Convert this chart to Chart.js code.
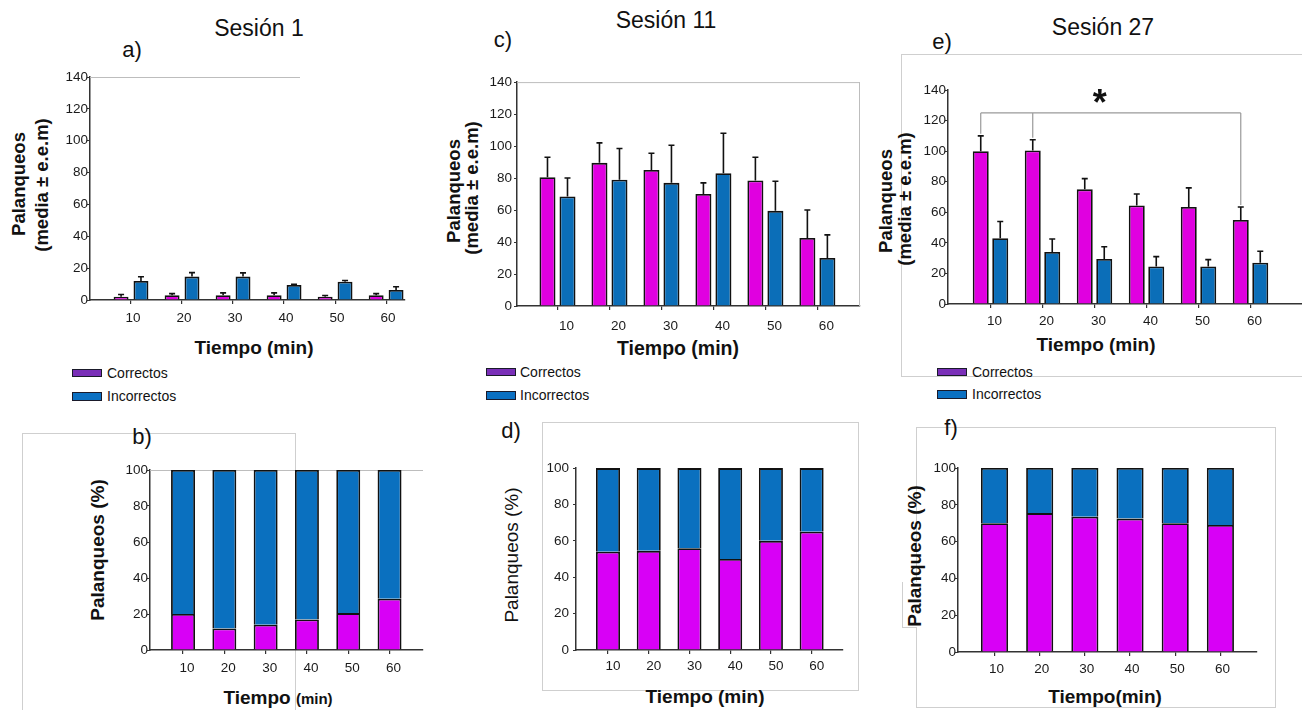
<!DOCTYPE html>
<html>
<head>
<meta charset="utf-8">
<script src="https://cdn.jsdelivr.net/npm/chart.js"></script>
<style>
body { margin: 0; width: 1302px; height: 710px; background: #fff; position: relative; overflow: hidden;
       font-family: "Liberation Sans", Arial, sans-serif; color: #111; }
canvas { position: absolute; }
.t { position: absolute; white-space: nowrap; transform: translate(-50%, -50%); }
.yt { position: absolute; white-space: nowrap; transform: translate(-50%, -50%) rotate(-90deg); font-weight: bold; }
.box { position: absolute; border: 1px solid #cfcfcf; }
.sw { position: absolute; width: 30px; height: 8px; border: 1px solid #1a1a2a; box-sizing: border-box; }
.lg { position: absolute; font-size: 14px; transform: translateY(-50%); white-space: nowrap; }
</style>
</head>
<body>

<!-- marcos de fondo -->
<div class="box" style="left:22px;top:433px;width:272px;height:300px;"></div>
<div class="box" style="left:542px;top:422px;width:315px;height:267px;"></div>
<div class="box" style="left:916px;top:427px;width:358px;height:279px;"></div>
<div class="box" style="left:901px;top:54px;width:420px;height:321px;"></div>
<div style="position:absolute;left:902px;top:582px;width:14px;height:45px;border-left:1px solid #cfcfcf;border-bottom:1px solid #cfcfcf;background:#fff;"></div>

<!-- titulos -->
<div class="t" style="left:259px;top:28px;font-size:23px;">Sesión 1</div>
<div class="t" style="left:666px;top:20px;font-size:23px;">Sesión 11</div>
<div class="t" style="left:1103px;top:27px;font-size:23px;">Sesión 27</div>

<div class="t" style="left:132px;top:50px;font-size:22px;">a)</div>
<div class="t" style="left:503px;top:40px;font-size:22px;">c)</div>
<div class="t" style="left:942px;top:42px;font-size:22px;">e)</div>
<div class="t" style="left:142px;top:437px;font-size:22px;">b)</div>
<div class="t" style="left:511px;top:431px;font-size:22px;">d)</div>
<div class="t" style="left:951px;top:428px;font-size:22px;">f)</div>

<!-- ejes y -->
<div class="yt" style="left:19px;top:184px;font-size:18.5px;">Palanqueos</div>
<div class="yt" style="left:42px;top:185px;font-size:18.5px;">(media ± e.e.m)</div>
<div class="yt" style="left:454px;top:191px;font-size:18.5px;">Palanqueos</div>
<div class="yt" style="left:472px;top:188px;font-size:18.5px;">(media ± e.e.m)</div>
<div class="yt" style="left:886px;top:201px;font-size:18.5px;">Palanqueos</div>
<div class="yt" style="left:905px;top:199px;font-size:18.5px;">(media ± e.e.m)</div>
<div class="yt" style="left:98px;top:550px;font-size:19px;">Palanqueos (%)</div>
<div class="yt" style="left:512px;top:555px;font-size:19px;font-weight:normal;">Palanqueos (%)</div>
<div class="yt" style="left:915px;top:556px;font-size:19px;">Palanqueos (%)</div>

<!-- ejes x -->
<div class="t" style="left:254px;top:348px;font-size:19px;font-weight:bold;">Tiempo (min)</div>
<div class="t" style="left:678px;top:348px;font-size:19.5px;font-weight:bold;">Tiempo (min)</div>
<div class="t" style="left:1096px;top:345px;font-size:19px;font-weight:bold;">Tiempo (min)</div>
<div class="t" style="left:278px;top:698px;font-size:19px;font-weight:bold;">Tiempo <span style="font-size:15px;">(min)</span></div>
<div class="t" style="left:705px;top:697px;font-size:19px;font-weight:bold;">Tiempo (min)</div>
<div class="t" style="left:1105px;top:697px;font-size:19px;font-weight:bold;">Tiempo(min)</div>

<!-- leyendas -->
<div class="sw" style="left:72px;top:369px;background:#7a2fb8;"></div>
<div class="lg" style="left:107px;top:373px;">Correctos</div>
<div class="sw" style="left:72px;top:392px;height:9px;background:#0b70c2;"></div>
<div class="lg" style="left:107px;top:396px;">Incorrectos</div>

<div class="sw" style="left:486px;top:368px;background:#7a2fb8;"></div>
<div class="lg" style="left:520px;top:372px;">Correctos</div>
<div class="sw" style="left:486px;top:391px;height:9px;background:#0b70c2;"></div>
<div class="lg" style="left:520px;top:395px;">Incorrectos</div>

<div class="sw" style="left:937px;top:368px;background:#7a2fb8;"></div>
<div class="lg" style="left:972px;top:372px;">Correctos</div>
<div class="sw" style="left:937px;top:390px;height:9px;background:#0b70c2;"></div>
<div class="lg" style="left:972px;top:394px;">Incorrectos</div>

<script>
// Tiempo (min)
const minutos = [10, 20, 30, 40, 50, 60];
const ticksCuenta = [0, 20, 40, 60, 80, 100, 120, 140];
const ticksPct = [0, 20, 40, 60, 80, 100];

// Sesion 1 - palanqueos (media y e.e.m)
const s1Correctos = [2, 3, 3, 3, 2, 3];
const s1CorrectosSem = [1.5, 1, 1.5, 1.5, 0.8, 1];
const s1Incorrectos = [12, 14.7, 14.7, 9.4, 11.5, 6.3];
const s1IncorrectosSem = [2.6, 2.5, 2.3, 0.5, 0.7, 2];

// Sesion 11
const s11Correctos = [80.5, 89.5, 85, 70, 78.5, 42.5];
const s11CorrectosSem = [12.5, 12.5, 10.5, 7, 14.5, 17.5];
const s11Incorrectos = [68.5, 79, 77, 83, 59.5, 30];
const s11IncorrectosSem = [11.5, 19.5, 23.5, 25, 18.5, 14.5];

// Sesion 27
const s27Correctos = [100, 100.5, 75, 64.5, 63.5, 55];
const s27CorrectosSem = [10, 7, 7, 7.5, 12.5, 8.5];
const s27Incorrectos = [43, 34, 29.5, 24.5, 24.5, 27];
const s27IncorrectosSem = [11, 8.5, 8, 6.5, 4.5, 7.5];

// porcentajes (%)
const pct1Correctos = [20, 12, 14, 17, 20.5, 28.5];
const pct1Incorrectos = [80, 88, 86, 83, 79.5, 71.5];
const pct11Correctos = [54, 54.5, 56, 50, 60, 65];
const pct11Incorrectos = [46, 45.5, 44, 50, 40, 35];
const pct27Correctos = [70, 75.5, 73.5, 72.5, 70, 69];
const pct27Incorrectos = [30, 24.5, 26.5, 27.5, 30, 31];

// comparacion significativa en sesion 27 (indices de minutos)
const sigIndices = [0, 1, 5];
const sigNivel = 125;
const sigMarca = '*';

const MAGENTA = '#e000e0';
const MAGENTA2 = '#d800f6';
const AZUL = '#0b6eb8';
const AZUL2 = '#0a70bf';

Chart.defaults.font.family = '"Liberation Sans", Arial, sans-serif';

const YW = 44, PT = 10, XH = 40, PR = 2;

function puntos(arr) {
    return minutos.map((m, i) => ({ x: m, y: arr[i] }));
}

// barras de error (solo hacia arriba)
const errorBars = {
    id: 'errorBars',
    afterDatasetsDraw(chart) {
        const ctx = chart.ctx;
        const y = chart.scales.y;
        chart.data.datasets.forEach((ds, i) => {
            if (!ds.sem) return;
            const meta = chart.getDatasetMeta(i);
            meta.data.forEach((bar, j) => {
                const top = y.getPixelForValue(ds.data[j].y + ds.sem[j]);
                ctx.save();
                ctx.strokeStyle = '#111';
                ctx.lineWidth = 1.6;
                ctx.beginPath();
                ctx.moveTo(bar.x, bar.y);
                ctx.lineTo(bar.x, top);
                ctx.moveTo(bar.x - 3, top);
                ctx.lineTo(bar.x + 3, top);
                ctx.stroke();
                ctx.restore();
            });
        });
    }
};

// marco gris del area
const frame = {
    id: 'frame',
    beforeDatasetsDraw(chart, args, opts) {
        if (!opts.top && !opts.right) return;
        const a = chart.chartArea, ctx = chart.ctx;
        const fin = opts.topLen ? a.left + opts.topLen : a.right;
        ctx.save();
        ctx.strokeStyle = '#bdbdbd';
        ctx.lineWidth = 1;
        ctx.beginPath();
        if (opts.top) { ctx.moveTo(a.left, a.top + 0.5); ctx.lineTo(fin, a.top + 0.5); }
        if (opts.right) { ctx.moveTo(a.right - 0.5, a.top); ctx.lineTo(a.right - 0.5, a.bottom); }
        ctx.stroke();
        ctx.restore();
    }
};

// corchete de significancia
const bracket = {
    id: 'bracket',
    afterDatasetsDraw(chart, args, opts) {
        if (!opts.indices) return;
        const ctx = chart.ctx, y = chart.scales.y, x = chart.scales.x;
        const ds = chart.data.datasets[0];
        const meta = chart.getDatasetMeta(0);
        const yl = y.getPixelForValue(opts.level);
        const xs = opts.indices.map(i => meta.data[i].x);
        ctx.save();
        ctx.strokeStyle = '#9a9a9a';
        ctx.lineWidth = 1.2;
        ctx.beginPath();
        ctx.moveTo(xs[0], yl);
        ctx.lineTo(xs[xs.length - 1], yl);
        opts.indices.forEach((i, k) => {
            ctx.moveTo(xs[k], yl);
            ctx.lineTo(xs[k], y.getPixelForValue(ds.data[i].y + ds.sem[i]) - 2);
        });
        ctx.stroke();
        ctx.fillStyle = '#111';
        ctx.font = 'bold 36px "Liberation Sans", Arial, sans-serif';
        ctx.textAlign = 'center';
        ctx.textBaseline = 'middle';
        ctx.fillText(opts.mark, x.getPixelForValue(31), y.getPixelForValue(130));
        ctx.restore();
    }
};

function makeChart(area, o) {
    const c = document.createElement('canvas');
    const w = Math.round(area.r - area.l + YW + PR);
    const h = Math.round(area.b - area.t + PT + XH);
    c.width = w;
    c.height = h;
    c.style.left = (area.l - YW) + 'px';
    c.style.top = (area.t - PT) + 'px';
    document.body.appendChild(c);

    return new Chart(c, {
        type: 'bar',
        data: { datasets: o.datasets },
        options: {
            responsive: false,
            animation: false,
            layout: { padding: { top: PT, right: PR, left: 0, bottom: 0 } },
            datasets: { bar: { categoryPercentage: o.cat, barPercentage: o.bar, borderWidth: 1.8, borderColor: '#111' } },
            plugins: {
                legend: { display: false },
                tooltip: { enabled: false },
                frame: o.frame || {},
                bracket: o.bracket || {}
            },
            scales: {
                x: {
                    type: 'linear',
                    offset: false,
                    min: o.xmin,
                    max: o.xmax,
                    stacked: !!o.stacked,
                    afterFit: s => { s.height = XH; },
                    afterBuildTicks: s => { s.ticks = minutos.map(v => ({ value: v })); },
                    grid: { offset: false, drawOnChartArea: false, tickLength: 4, color: '#333', lineWidth: 1.2 },
                    border: { color: '#333', width: 1.5 },
                    ticks: { color: '#1a1a1a', font: { size: 13.5 }, padding: o.xpad, labelOffset: o.xoff }
                },
                y: {
                    min: 0,
                    max: o.ymax,
                    stacked: !!o.stacked,
                    afterFit: s => { s.width = YW; },
                    afterBuildTicks: s => { s.ticks = o.yticks.map(v => ({ value: v })); },
                    grid: { drawOnChartArea: false, tickLength: 3, color: '#333' },
                    border: { color: '#333', width: 1.5 },
                    ticks: { color: '#1a1a1a', font: { size: 13.5 }, padding: o.ypad }
                }
            }
        },
        plugins: [frame, errorBars, bracket]
    });
}

function grupos(corr, corrSem, inc, incSem, mag) {
    return [
        { label: 'Correctos', data: puntos(corr), sem: corrSem, backgroundColor: mag },
        { label: 'Incorrectos', data: puntos(inc), sem: incSem, backgroundColor: AZUL }
    ];
}

function apiladas(corr, inc) {
    return [
        { label: 'Correctos', data: puntos(corr), backgroundColor: MAGENTA2 },
        { label: 'Incorrectos', data: puntos(inc), backgroundColor: AZUL2 }
    ];
}

// a) Sesion 1
makeChart({ l: 90, t: 77, r: 405, b: 300 }, {
    datasets: grupos(s1Correctos, s1CorrectosSem, s1Incorrectos, s1IncorrectosSem, MAGENTA),
    xmin: 1.96, xmax: 63.7, cat: 0.78, bar: 0.75, ymax: 140, yticks: ticksCuenta,
    xpad: 6, xoff: 2, ypad: -1, frame: { top: true, topLen: 210 }
});

// c) Sesion 11
makeChart({ l: 517, t: 81.7, r: 860, b: 306 }, {
    datasets: grupos(s11Correctos, s11CorrectosSem, s11Incorrectos, s11IncorrectosSem, MAGENTA),
    xmin: 2.21, xmax: 68.2, cat: 0.77, bar: 0.8, ymax: 140, yticks: ticksCuenta,
    xpad: 8, xoff: 9, ypad: 2, frame: { top: true, right: true }
});

// e) Sesion 27
makeChart({ l: 948, t: 90, r: 1302, b: 304 }, {
    datasets: grupos(s27Correctos, s27CorrectosSem, s27Incorrectos, s27IncorrectosSem, MAGENTA),
    xmin: 1.83, xmax: 69.9, cat: 0.75, bar: 0.82, ymax: 140, yticks: ticksCuenta,
    xpad: 5, xoff: 4, ypad: -1,
    bracket: { indices: sigIndices, level: sigNivel, mark: sigMarca }
});

// b) Sesion 1 (%)
makeChart({ l: 150, t: 470, r: 423, b: 650 }, {
    datasets: apiladas(pct1Correctos, pct1Incorrectos), stacked: true,
    xmin: 2.0, xmax: 68.1, cat: 1, bar: 0.58, ymax: 100, yticks: ticksPct,
    xpad: 6, xoff: 4, ypad: -1, frame: { top: true }
});

// d) Sesion 11 (%)
makeChart({ l: 576, t: 465.7, r: 843, b: 650 }, {
    datasets: apiladas(pct11Correctos, pct11Incorrectos), stacked: true,
    xmin: 2.14, xmax: 67.7, cat: 1, bar: 0.59, ymax: 100, yticks: ticksPct,
    xpad: 4, xoff: 5, ypad: 4
});

// f) Sesion 27 (%)
makeChart({ l: 958, t: 467.7, r: 1257, b: 651.7 }, {
    datasets: apiladas(pct27Correctos, pct27Incorrectos), stacked: true,
    xmin: 1.92, xmax: 68.1, cat: 1, bar: 0.6, ymax: 100, yticks: ticksPct,
    xpad: 5, xoff: 2, ypad: -1
});
</script>
</body>
</html>
